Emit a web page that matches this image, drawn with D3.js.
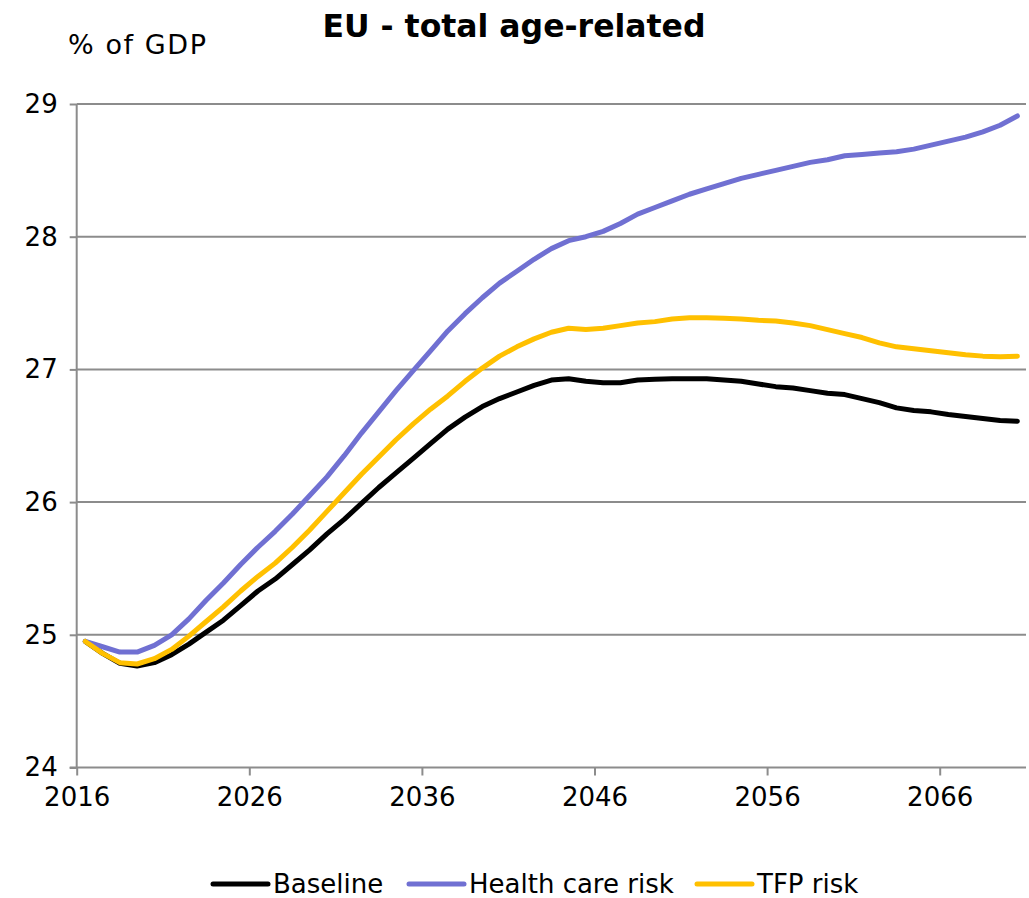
<!DOCTYPE html>
<html>
<head>
<meta charset="utf-8">
<script src="https://cdn.jsdelivr.net/npm/d3@7/dist/d3.min.js"></script>
<style>
  html, body { margin: 0; padding: 0; background: #fff; }
  text { font-family: "DejaVu Sans", Verdana, sans-serif; fill: #000; }
</style>
</head>
<body>
<svg id="chart" width="1029" height="898"></svg>
<script>
const years = d3.range(2016, 2071);
const baseline = [
  24.95, 24.86, 24.785, 24.765, 24.79, 24.85, 24.93, 25.02, 25.11, 25.22,
  25.33, 25.42, 25.53, 25.64, 25.76, 25.87, 25.99, 26.11, 26.22, 26.33,
  26.44, 26.55, 26.64, 26.72, 26.78, 26.83, 26.88, 26.92, 26.93, 26.91,
  26.90, 26.90, 26.92, 26.925, 26.93, 26.93, 26.93, 26.92, 26.91, 26.89,
  26.87, 26.86, 26.84, 26.82, 26.81, 26.78, 26.75, 26.71, 26.69, 26.68,
  26.66, 26.645, 26.63, 26.615, 26.61
];
const healthCare = [
  24.95, 24.91, 24.87, 24.87, 24.92, 25.00, 25.12, 25.26, 25.39, 25.53,
  25.66, 25.78, 25.91, 26.05, 26.19, 26.35, 26.52, 26.68, 26.84, 26.99,
  27.14, 27.29, 27.42, 27.54, 27.65, 27.74, 27.83, 27.91, 27.97, 28.00,
  28.04, 28.10, 28.17, 28.22, 28.27, 28.32, 28.36, 28.40, 28.44, 28.47,
  28.50, 28.53, 28.56, 28.58, 28.61, 28.62, 28.63, 28.64, 28.66, 28.69,
  28.72, 28.75, 28.79, 28.84, 28.91
];
const tfp = [
  24.95, 24.86, 24.79, 24.78, 24.82, 24.89, 24.99, 25.10, 25.21, 25.33,
  25.44, 25.54, 25.66, 25.79, 25.93, 26.07, 26.21, 26.34, 26.47, 26.59,
  26.70, 26.80, 26.91, 27.01, 27.10, 27.17, 27.23, 27.28, 27.31, 27.30,
  27.31, 27.33, 27.35, 27.36, 27.38, 27.39, 27.39, 27.385, 27.38, 27.37,
  27.365, 27.35, 27.33, 27.30, 27.27, 27.24, 27.20, 27.17, 27.155, 27.14,
  27.125, 27.11, 27.10, 27.095, 27.10
];
const seriesNames = ["Baseline", "Health care risk", "TFP risk"];
const seriesColors = ["#000000", "#7070d2", "#ffc000"];
const xTickYears = [2016, 2026, 2036, 2046, 2056, 2066];
const yTicks = [24, 25, 26, 27, 28, 29];
const titleText = "EU - total age-related";
const yUnit = "% of GDP";

const svg = d3.select("#chart");
const L = 76.7, R = 1026, T = 104, B = 767.5;
const x = d3.scaleLinear().domain([2015.5, 2070.5]).range([L, R]);
const y = d3.scaleLinear().domain([24, 29]).range([B, T]);

// gridlines
svg.append("g").selectAll("line").data(yTicks.slice(1)).join("line")
  .attr("x1", L).attr("x2", R)
  .attr("y1", d => y(d)).attr("y2", d => y(d))
  .attr("stroke", "#8c8c8c").attr("stroke-width", 2);

// y axis
const yAxis = d3.axisLeft(y).tickValues(yTicks).tickSize(7).tickPadding(12).tickFormat(d3.format("d"));
const gy = svg.append("g").attr("transform", `translate(${L},0)`).call(yAxis);
gy.select(".domain").attr("stroke", "#8c8c8c").attr("stroke-width", 2).attr("d", `M0,${T}V${B}`);
gy.selectAll(".tick line").attr("stroke", "#8c8c8c").attr("stroke-width", 2);
gy.selectAll(".tick text").attr("font-size", 26).attr("font-family", "DejaVu Sans").attr("fill", "#000");

// x axis
const xAxis = d3.axisBottom(x).tickValues(xTickYears.map(v => v - 0.5)).tickSize(8).tickPadding(12)
  .tickFormat(d => String(d + 0.5));
const gx = svg.append("g").attr("transform", `translate(0,${B})`).call(xAxis);
gx.select(".domain").attr("stroke", "#8c8c8c").attr("stroke-width", 2).attr("d", `M${L - 7},0H${R}`);
gx.selectAll(".tick line").attr("stroke", "#8c8c8c").attr("stroke-width", 2);
gx.selectAll(".tick text").attr("font-size", 26).attr("font-family", "DejaVu Sans").attr("fill", "#000");

// lines
const allSeries = [baseline, healthCare, tfp];
const line = d3.line().x((d, i) => x(years[i])).y(d => y(d));
allSeries.forEach((s, k) => {
  svg.append("path").datum(s)
    .attr("d", line)
    .attr("fill", "none")
    .attr("stroke", seriesColors[k])
    .attr("stroke-width", 5)
    .attr("stroke-linejoin", "round")
    .attr("stroke-linecap", "round");
});

// title & unit
svg.append("text").attr("x", 514).attr("y", 37).attr("text-anchor", "middle")
  .attr("font-size", 31.5).attr("font-weight", "bold").text(titleText);
svg.append("text").attr("x", 68).attr("y", 54).attr("font-size", 27)
  .attr("letter-spacing", 1.6).text(yUnit);

// legend
const legendX = [213, 409, 697];
const lg = svg.append("g");
seriesNames.forEach((n, k) => {
  lg.append("line").attr("x1", legendX[k]).attr("x2", legendX[k] + 55)
    .attr("y1", 884).attr("y2", 884)
    .attr("stroke", seriesColors[k]).attr("stroke-width", 5).attr("stroke-linecap", "round");
  lg.append("text").attr("x", legendX[k] + 60).attr("y", 893).attr("font-size", 26).text(n);
});
</script>
</body>
</html>
